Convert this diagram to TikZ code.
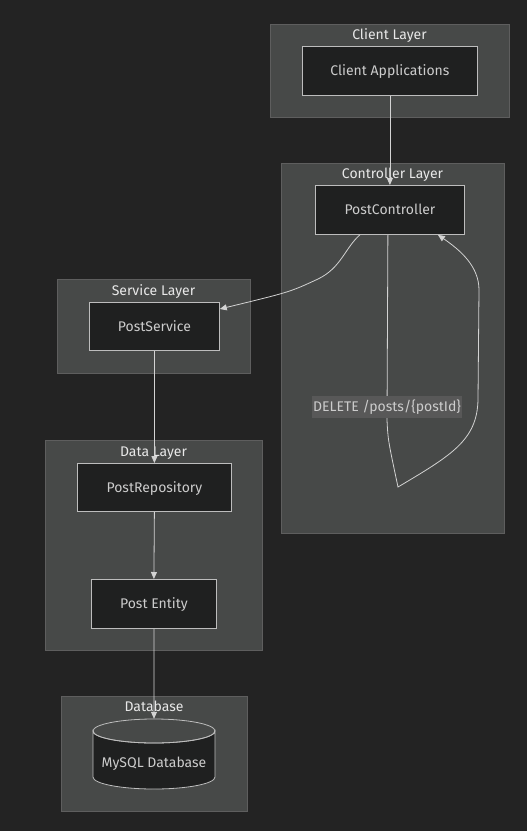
\documentclass[tikz,border=0pt]{standalone}
\usepackage{fontspec}
\setmainfont{Fira Sans}
\usetikzlibrary{arrows.meta}
\definecolor{bgcol}{HTML}{232323}
\definecolor{layerfill}{HTML}{474948}
\definecolor{layerline}{HTML}{5E5E5E}
\definecolor{boxfill}{HTML}{1F2020}
\definecolor{boxline}{HTML}{BDBDBD}
\definecolor{boxtext}{HTML}{CCCCCC}
\definecolor{titletext}{HTML}{E8E8E8}
\definecolor{edgecol}{HTML}{D3D3D3}
\definecolor{lblfill}{HTML}{585858}
\begin{document}
\begin{tikzpicture}[x=1pt,y=-1pt,
    txt/.style={font=\fontsize{14}{16}\selectfont, text height=9.6pt, text depth=0pt},
    layer/.style={draw=layerline, fill=layerfill, line width=0.8pt, anchor=north west, inner sep=0pt},
    box/.style={txt, draw=boxline, fill=boxfill, line width=0.8pt, anchor=north west, inner sep=0pt,
        text=boxtext},
    title/.style={txt, text=titletext, inner sep=0pt},
    edge/.style={draw=edgecol, line width=0.8pt, -{Triangle[length=7pt,width=6pt]}}]
    % background
    \fill[bgcol] (0,0) rectangle (527,831);
    \useasboundingbox (0,0) rectangle (527,831);

    % layers
    \node[layer, minimum width=239, minimum height=93] (clientL) at (270,24) {};
    \node[layer, minimum width=223, minimum height=370] (ctrlL) at (281,163) {};
    \node[layer, minimum width=193, minimum height=94] (serviceL) at (57,279) {};
    \node[layer, minimum width=217, minimum height=210] (dataL) at (45,440) {};
    \node[layer, minimum width=186, minimum height=115] (dbL) at (61,696) {};

    \node[title] at (389.5,35) {Client Layer};
    \node[title] at (392.5,174) {Controller Layer};
    \node[title] at (153.5,291) {Service Layer};
    \node[title] at (153.5,452) {Data Layer};
    \node[title] at (154,707) {Database};

    % boxes
    \node[box, minimum width=175, minimum height=49] (client) at (302,46) {Client Applications};
    \node[box, minimum width=149, minimum height=49] (ctrl) at (315,185) {PostController};
    \node[box, minimum width=130, minimum height=48] (service) at (89,302) {PostService};
    \node[box, minimum width=154, minimum height=48] (repo) at (77,463) {PostRepository};
    \node[box, minimum width=125, minimum height=49] (entity) at (91,579) {Post Entity};

    % database cylinder
    \node[inner sep=0pt, minimum width=122, minimum height=70] (db) at (154,754) {};
    \fill[boxfill, draw=boxline, line width=0.8pt] (93,731) -- (93,777) arc (180:0:61 and 12) -- (215,731) arc (0:180:61 and 12) -- cycle;
    \draw[boxline, line width=0.8pt] (154,731) ellipse (61 and 12);
    \node[txt, text=boxtext] at (154,763) {MySQL Database};

    % edges
    \draw[edge] (client.south) -- (ctrl.north);
    \draw[edge] ([xshift=-30pt]ctrl.south) .. controls (345,248) and (341,268) .. (318,279)
        .. controls (290,292) .. ([yshift=-7pt]service.north east);
    \draw[edge] ([xshift=-2pt]ctrl.south) -- (387,420) .. controls (388,440) .. (398,487)
        .. controls (452,455) and (477,440) .. (478,400) -- (479,290)
        .. controls (479,266) and (460,250) .. ([xshift=48pt]ctrl.south);
    \node[txt, fill=lblfill, text=boxtext, inner xsep=1pt, inner ysep=6pt] (lbl) at (387,407) {DELETE /posts/\{postId\}};
    \draw[edge] (service.south) -- (repo.north);
    \draw[edge] (repo.south) -- (entity.north);
    \draw[edge] (entity.south) -- (db.north);
\end{tikzpicture}
\end{document}
